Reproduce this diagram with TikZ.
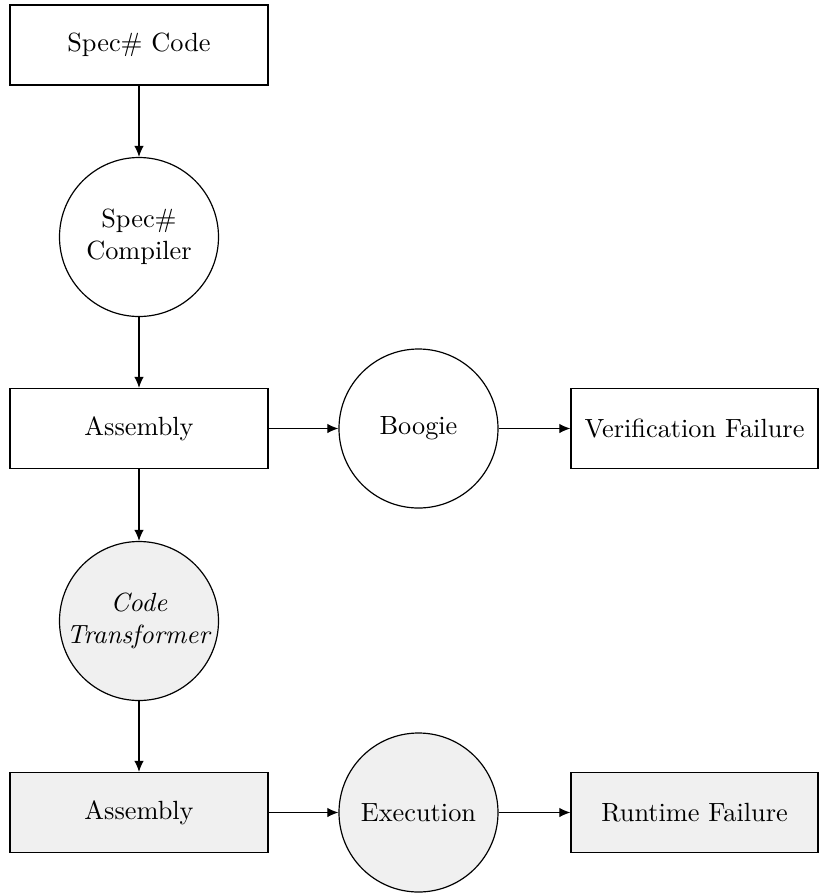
\documentclass[tikz,border=0pt]{standalone}
\usetikzlibrary{arrows.meta}
\newcommand\upx{0.38pt}
\definecolor{shade}{RGB}{240,240,240}
\begin{document}
\begin{tikzpicture}[x=0.38pt,y=-0.38pt,
  every node/.style={font=\normalsize},
  boxnode/.style={draw, line width=0.45pt, rectangle, inner sep=0pt, minimum width=258*\upx, minimum height=80*\upx, align=center},
  widebox/.style={boxnode, minimum width=247*\upx},
  roundnode/.style={draw, line width=0.45pt, circle, inner sep=0pt, minimum size=159*\upx, align=center},
  shaded/.style={fill=shade},
  conn/.style={line width=0.45pt, -{Latex[length=4.2pt,width=3.6pt]}}]
\useasboundingbox (0,0) rectangle (820,893);
\node[boxnode] (code) at (139,45) {Spec\# Code};
\node[roundnode] (comp) at (139,237) {Spec\#\\Compiler};
\node[boxnode] (asm1) at (139,428.5) {Assembly};
\node[roundnode] (boogie) at (418.5,428.5) {Boogie};
\node[widebox] (vf) at (694.5,428.5) {Verification Failure};
\node[roundnode, shaded] (trans) at (139,621) {\textit{Code}\\\textit{Transformer}};
\node[boxnode, shaded] (asm2) at (139,812.5) {Assembly};
\node[roundnode, shaded] (exec) at (418.5,812.5) {Execution};
\node[widebox, shaded] (rf) at (694.5,812.5) {Runtime Failure};
\draw[conn] (code) -- (comp);
\draw[conn] (comp) -- (asm1);
\draw[conn] (asm1) -- (boogie);
\draw[conn] (boogie) -- (vf);
\draw[conn] (asm1) -- (trans);
\draw[conn] (trans) -- (asm2);
\draw[conn] (asm2) -- (exec);
\draw[conn] (exec) -- (rf);
\end{tikzpicture}
\end{document}
